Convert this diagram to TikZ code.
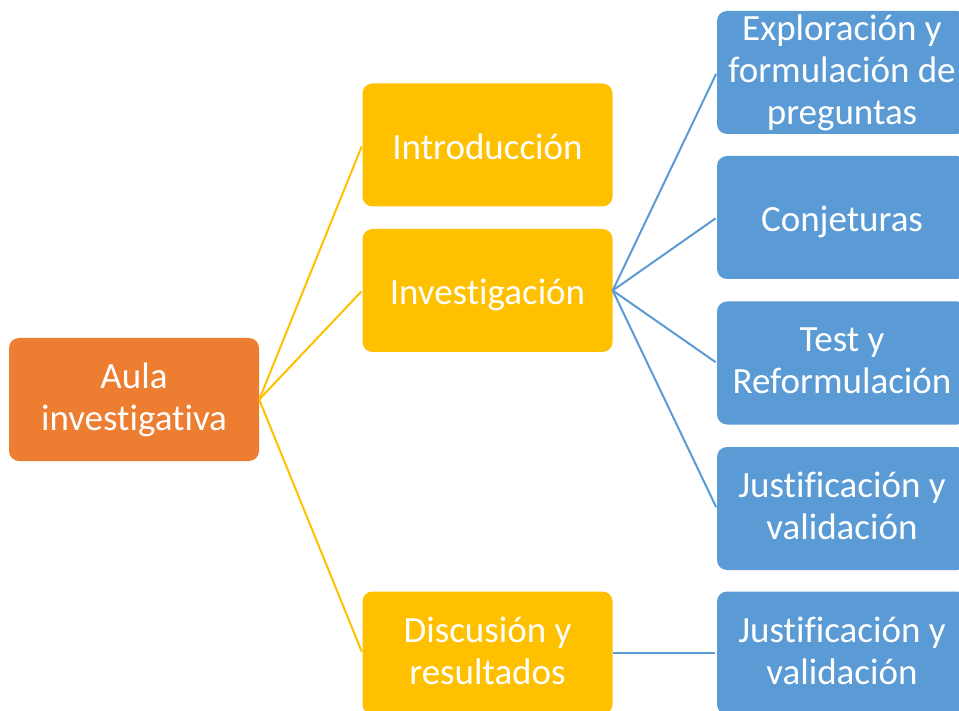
\documentclass[tikz,border=0pt]{standalone}
\usepackage{fontspec}
\setmainfont{Carlito}[Ligatures={NoCommon}]
\definecolor{orangeA}{HTML}{ED7D31}
\definecolor{yellowA}{HTML}{FFC000}
\definecolor{blueA}{HTML}{5B9BD5}
\newcommand{\boxstrut}{\rule[-4.5pt]{0pt}{38pt}}
\begin{document}
\begin{tikzpicture}[x=1pt,y=-1pt,
  box/.style={rounded corners=10pt, text=white, align=center, inner sep=0pt,
    font=\fontsize{37}{42}\selectfont, minimum width=250pt, minimum height=123pt,
    execute at begin node=\boxstrut, execute at end node=\boxstrut},
  rootbox/.style={box, fill=orangeA},
  midbox/.style={box, fill=yellowA},
  leafbox/.style={box, fill=blueA},
  yline/.style={draw=yellowA, line width=2pt, shorten >=1.5pt},
  bline/.style={draw=blueA, line width=2pt, shorten >=1.5pt}]
\useasboundingbox (0,0) rectangle (959,711);
\clip (0,0) rectangle (959,711);
\node[rootbox] (root) at (134,399.5) {Aula\\investigativa};
\node[midbox] (intro) at (487.5,145) {Introducción};
\node[midbox] (inv) at (487.5,290.5) {Investigación};
\node[midbox] (disc) at (487.5,653) {Discusión y\\resultados};
\node[leafbox] (l1) at (842,72.5) {Exploración y\\formulación de\\preguntas};
\node[leafbox] (l2) at (842,217.5) {Conjeturas};
\node[leafbox] (l3) at (842,363) {Test y\\Reformulación};
\node[leafbox] (l4) at (842,508.5) {Justificación y\\validación};
\node[leafbox] (l5) at (842,653) {Justificación y\\validación};
\draw[yline] (root.east) -- (intro.west);
\draw[yline] (root.east) -- (inv.west);
\draw[yline] (root.east) -- (disc.west);
\draw[bline] (inv.east) -- (l1.west);
\draw[bline] (inv.east) -- (l2.west);
\draw[bline] (inv.east) -- (l3.west);
\draw[bline] (inv.east) -- (l4.west);
\draw[bline] (disc.east) -- (l5.west);
\end{tikzpicture}
\end{document}
